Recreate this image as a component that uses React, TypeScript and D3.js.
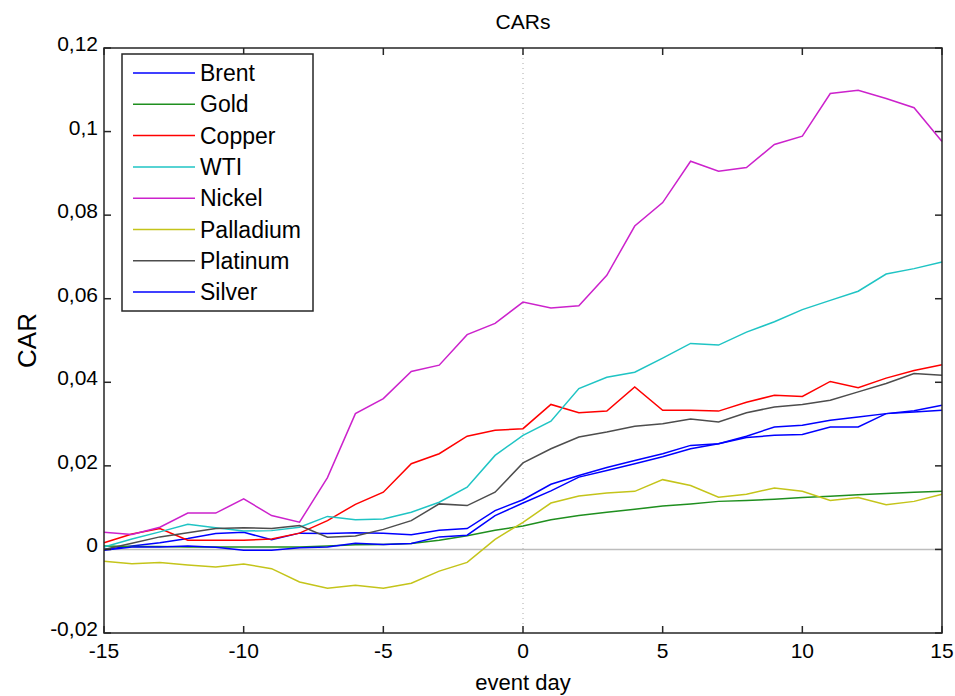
import React from "react";
import * as d3 from "d3";

const days = d3.range(-15, 16);

const brent = [0.0, 0.0008, 0.0016, 0.0026, 0.0038, 0.0041, 0.0023, 0.0039, 0.0038, 0.004, 0.0039, 0.0035, 0.0046, 0.005, 0.0093, 0.0119, 0.0156, 0.0177, 0.0196, 0.0213, 0.0229, 0.0249, 0.0253, 0.0271, 0.0293, 0.0297, 0.0309, 0.0317, 0.0325, 0.0329, 0.0333];
const gold = [0.0008, 0.0007, 0.0007, 0.0006, 0.0006, 0.0006, 0.0006, 0.0006, 0.0008, 0.0011, 0.0012, 0.0014, 0.0022, 0.0033, 0.0046, 0.0056, 0.0071, 0.0081, 0.0089, 0.0096, 0.0104, 0.0109, 0.0115, 0.0117, 0.012, 0.0124, 0.0127, 0.0131, 0.0134, 0.0137, 0.0139];
const copper = [0.0016, 0.0037, 0.005, 0.0022, 0.0022, 0.0022, 0.0025, 0.0039, 0.0069, 0.0108, 0.0137, 0.0205, 0.0229, 0.0271, 0.0285, 0.0289, 0.0347, 0.0327, 0.0331, 0.0389, 0.0333, 0.0333, 0.0331, 0.0352, 0.0369, 0.0366, 0.0402, 0.0387, 0.041, 0.0428, 0.0442];
const wti = [0.0006, 0.0025, 0.0042, 0.006, 0.0052, 0.0044, 0.0045, 0.0053, 0.0079, 0.0071, 0.0073, 0.0089, 0.0113, 0.0149, 0.0225, 0.0273, 0.0307, 0.0385, 0.0412, 0.0424, 0.0458, 0.0493, 0.0489, 0.052, 0.0545, 0.0574, 0.0596, 0.0618, 0.0659, 0.0672, 0.0688];
const nickel = [0.0041, 0.0036, 0.0053, 0.0087, 0.0087, 0.0121, 0.0081, 0.0065, 0.0172, 0.0325, 0.0361, 0.0426, 0.0441, 0.0514, 0.0541, 0.0592, 0.0578, 0.0583, 0.0656, 0.0774, 0.083, 0.0929, 0.0905, 0.0914, 0.0969, 0.0989, 0.1091, 0.1099, 0.1079, 0.1057, 0.0976];
const palladium = [-0.0028, -0.0034, -0.0031, -0.0037, -0.0042, -0.0035, -0.0046, -0.0078, -0.0093, -0.0086, -0.0093, -0.0081, -0.0052, -0.0031, 0.0024, 0.0065, 0.0111, 0.0128, 0.0135, 0.0139, 0.0167, 0.0153, 0.0125, 0.0132, 0.0147, 0.0139, 0.0117, 0.0124, 0.0107, 0.0115, 0.0132];
const platinum = [0.0, 0.0015, 0.003, 0.004, 0.005, 0.0052, 0.005, 0.0057, 0.0029, 0.0032, 0.0048, 0.0069, 0.0109, 0.0105, 0.0137, 0.0207, 0.0241, 0.0269, 0.0281, 0.0295, 0.0301, 0.0312, 0.0305, 0.0327, 0.0341, 0.0347, 0.0357, 0.0377, 0.0397, 0.0421, 0.0417];
const silver = [-0.0002, 0.0006, 0.0006, 0.0008, 0.0005, -0.0002, -0.0002, 0.0004, 0.0006, 0.0015, 0.0012, 0.0014, 0.003, 0.0034, 0.0081, 0.0111, 0.014, 0.0173, 0.0189, 0.0205, 0.0222, 0.0241, 0.0253, 0.0268, 0.0273, 0.0275, 0.0293, 0.0293, 0.0325, 0.0332, 0.0345];

const seriesNames = ["Brent", "Gold", "Copper", "WTI", "Nickel", "Palladium", "Platinum", "Silver"];
const seriesValues = [brent, gold, copper, wti, nickel, palladium, platinum, silver];
const seriesColors = ["#0000ff", "#1f8f1f", "#ff0000", "#1fc4c4", "#cc22cc", "#c4c41a", "#4d4d4d", "#0000ff"];

const xTicks = [-15, -10, -5, 0, 5, 10, 15];
const yTicks = [-0.02, 0, 0.02, 0.04, 0.06, 0.08, 0.1, 0.12];

const width = 955;
const height = 696;
const margin = { top: 48, right: 13, bottom: 63, left: 104 };
const font = "'Liberation Sans', Arial, sans-serif";

const fmt = (v: number) => String(+v.toFixed(2)).replace(".", ",");

export default function App() {
  const x = d3.scaleLinear().domain([-15, 15]).range([margin.left, width - margin.right]);
  const y = d3.scaleLinear().domain([-0.02, 0.12]).range([height - margin.bottom, margin.top]);
  const line = d3
    .line<number>()
    .x((_, i) => x(days[i]))
    .y((d) => y(d));

  const x0 = x.range()[0];
  const x1 = x.range()[1];
  const yb = y.range()[0];
  const yt = y.range()[1];
  const tick = 7;

  return (
    <div style={{ position: "absolute", left: 0, top: 0 }}>
      <svg width={width} height={height} style={{ display: "block", background: "#fff" }} fontFamily={font}>
        {/* reference lines */}
        <line x1={x0} x2={x1} y1={y(0)} y2={y(0)} stroke="#bdbdbd" strokeWidth={1.5} />
        <line x1={x(0)} x2={x(0)} y1={yt} y2={yb} stroke="#aaaaaa" strokeWidth={1} strokeDasharray="1,4" />

        {seriesValues.map((vals, i) => (
          <path key={seriesNames[i]} d={line(vals) || ""} fill="none" stroke={seriesColors[i]} strokeWidth={1.5} />
        ))}

        {/* box */}
        <rect x={x0} y={yt} width={x1 - x0} height={yb - yt} fill="none" stroke="#262626" strokeWidth={1.5} />

        {xTicks.map((t) => (
          <g key={"x" + t}>
            <line x1={x(t)} x2={x(t)} y1={yb} y2={yb - tick} stroke="#262626" strokeWidth={1.5} />
            <line x1={x(t)} x2={x(t)} y1={yt} y2={yt + tick} stroke="#262626" strokeWidth={1.5} />
            <text x={x(t)} y={yb + 25} textAnchor="middle" fontSize={21} fill="#000">
              {fmt(t)}
            </text>
          </g>
        ))}
        {yTicks.map((t) => (
          <g key={"y" + t}>
            <line x1={x0} x2={x0 + tick} y1={y(t)} y2={y(t)} stroke="#262626" strokeWidth={1.5} />
            <line x1={x1} x2={x1 - tick} y1={y(t)} y2={y(t)} stroke="#262626" strokeWidth={1.5} />
            <text x={x0 - 6} y={y(t) + 3} textAnchor="end" fontSize={21} fill="#000">
              {fmt(t)}
            </text>
          </g>
        ))}

        <text x={(x0 + x1) / 2} y={29} textAnchor="middle" fontSize={21} fill="#000">
          CARs
        </text>
        <text x={(x0 + x1) / 2} y={690} textAnchor="middle" fontSize={22} fill="#000">
          event day
        </text>
        <text transform={`translate(36,${(yt + yb) / 2}) rotate(-90)`} textAnchor="middle" fontSize={26} fill="#000">
          CAR
        </text>

        {/* legend */}
        <g>
          <rect x={122} y={54} width={191} height={257} fill="#fff" stroke="#262626" strokeWidth={1.5} />
          {seriesNames.map((n, i) => {
            const cy = 73 + i * 31.3;
            return (
              <g key={"l" + n}>
                <line x1={133} x2={195} y1={cy} y2={cy} stroke={seriesColors[i]} strokeWidth={1.5} />
                <text x={200} y={cy + 8} fontSize={23} fill="#000">
                  {n}
                </text>
              </g>
            );
          })}
        </g>
      </svg>
    </div>
  );
}
